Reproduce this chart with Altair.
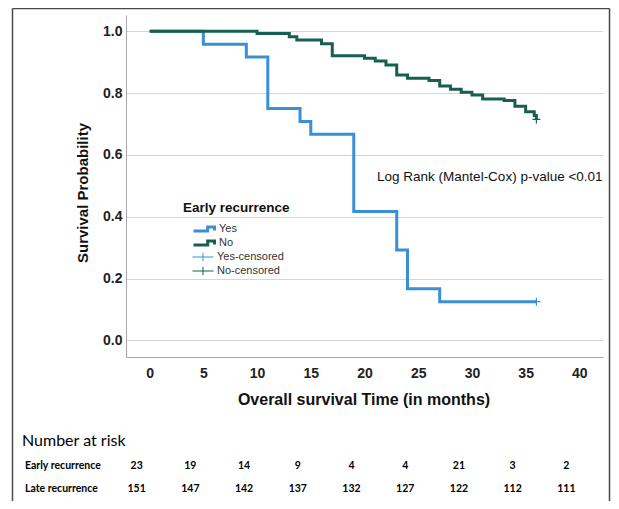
import altair as alt
import pandas as pd

# ---- data ----
yes_time = [0, 5, 9, 11, 14, 15, 19, 23, 24, 27, 36]
yes_surv = [1.0, 0.958, 0.917, 0.75, 0.708, 0.667, 0.417, 0.292, 0.167, 0.125, 0.125]
no_time = [0, 10, 13, 13.7, 16, 17, 20, 21, 22, 23, 24, 26, 27, 28, 29, 30, 31, 33, 34, 35, 35.8, 36]
no_surv = [1.0, 0.993, 0.983, 0.972, 0.96, 0.921, 0.913, 0.904, 0.891, 0.859, 0.848, 0.841,
           0.823, 0.813, 0.803, 0.794, 0.781, 0.776, 0.758, 0.74, 0.728, 0.715]
censor_group = ["Yes-censored", "No-censored"]
censor_time = [36, 36]
censor_surv = [0.125, 0.715]
risk_time = [0, 5, 10, 15, 20, 25, 30, 35, 40]
risk_early = [23, 19, 14, 9, 4, 4, 21, 3, 2]
risk_late = [151, 147, 142, 137, 132, 127, 122, 112, 111]
x_ticks = [0, 5, 10, 15, 20, 25, 30, 35, 40]
y_ticks = [0.0, 0.2, 0.4, 0.6, 0.8, 1.0]

BLUE = "#3a8fd8"
GREEN = "#17604f"
FONT = "Liberation Sans"
TFONT = "Lato"

STEP_PATH = "M-1,0.2H0.35V-0.2H1V0.15"
CROSS_LEGEND = "M-1,0H1M0,-0.4V0.4"
CROSS_MARK = "M-1,0H1M0,-1V1"

x_scale = alt.Scale(domain=[-2.2, 42.2], nice=False, zero=False)
y_scale = alt.Scale(domain=[-0.054, 1.053], nice=False, zero=False)

x_axis = alt.Axis(values=x_ticks, grid=False, ticks=False, tickSize=0, labelPadding=9,
                  labelFont=FONT, labelFontSize=14, labelFontWeight="bold", labelColor="#222",
                  domainColor="#a8a8a8", title=None, labelFlush=False)
y_axis = alt.Axis(values=y_ticks, format=".1f", grid=True, gridColor="#d6d6d6", ticks=False,
                  tickSize=0, labelPadding=4, labelFont=FONT, labelFontSize=14,
                  labelFontWeight="bold", labelColor="#222", domainColor="#a8a8a8", title=None)

curves = pd.DataFrame({
    "time": yes_time + no_time,
    "surv": yes_surv + no_surv,
    "group": ["Yes"] * len(yes_time) + ["No"] * len(no_time),
})
cens = pd.DataFrame({"time": censor_time, "surv": censor_surv, "group": censor_group})
risk_e = pd.DataFrame({"time": risk_time, "n": risk_early})
risk_l = pd.DataFrame({"time": risk_time, "n": risk_late})
one = pd.DataFrame({"a": [0]})

X = alt.X("time:Q", scale=x_scale, axis=x_axis)
Y = alt.Y("surv:Q", scale=y_scale, axis=y_axis)

lines = alt.Chart(curves).mark_line(interpolate="step-after", strokeWidth=3).encode(
    x=X, y=Y,
    color=alt.Color("group:N", scale=alt.Scale(domain=["Yes", "No"], range=[BLUE, GREEN]),
                    legend=alt.Legend(title=None, orient="none", legendX=66, legendY=208,
                                      symbolType=STEP_PATH, symbolSize=441, symbolStrokeWidth=3,
                                      symbolFillColor="transparent", symbolOpacity=1,
                                      clipHeight=12, rowPadding=2, labelOffset=3, padding=0,
                                      labelFont=FONT, labelFontSize=11, labelColor="#333")),
)

points = alt.Chart(cens).mark_point(shape=CROSS_MARK, filled=False, size=64, strokeWidth=1.2,
                                     opacity=1).encode(
    x=X, y=Y,
    stroke=alt.Stroke("group:N", scale=alt.Scale(domain=censor_group, range=[BLUE, GREEN]),
                      legend=alt.Legend(title=None, orient="none", legendX=66, legendY=236,
                                        symbolType=CROSS_LEGEND, symbolSize=441, symbolStrokeWidth=1,
                                        symbolFillColor="transparent", symbolOpacity=1,
                                        clipHeight=12, rowPadding=2, labelOffset=3, padding=0,
                                        labelFont=FONT, labelFontSize=11, labelColor="#333")),
)

def label(text, x, y, size, weight="normal", font=FONT, angle=0, align="center", color="#111"):
    kw = dict(text=text, fontSize=size, fontWeight=weight, font=font, align=align,
              baseline="middle", color=color)
    if angle:
        kw["angle"] = angle
    return alt.Chart(one).mark_text(**kw).encode(x=alt.value(x), y=alt.value(y))

y_title = label("Survival Probability", -43, 178, 15, "bold", angle=270)
x_title = label("Overall survival Time (in months)", 238, 385, 16, "bold")
leg_title = label("Early recurrence", 57, 193, 13.5, "bold", align="left")
risk_head = label("Number at risk", -104, 426, 16, "normal", font=TFONT, align="left", color="#000")
row_e = label("Early recurrence", -101, 451, 10.5, "bold", font=TFONT, align="left", color="#000")
row_l = label("Late recurrence", -101, 474, 10.5, "bold", font=TFONT, align="left", color="#000")

logrank = alt.Chart(pd.DataFrame({"time": [21.17], "surv": [0.529],
                                  "t": ["Log Rank (Mantel-Cox) p-value <0.01"]})).mark_text(
    align="left", baseline="middle", font=FONT, fontSize=13.5, color="#111").encode(
    x=X, y=Y, text="t:N")

nums_e = alt.Chart(risk_e).mark_text(font=TFONT, fontSize=10.5, fontWeight="bold", dx=-13,
                                     baseline="middle", color="#000").encode(
    x=X, y=alt.value(451), text="n:Q")
nums_l = alt.Chart(risk_l).mark_text(font=TFONT, fontSize=10.5, fontWeight="bold", dx=-13,
                                     baseline="middle", color="#000").encode(
    x=X, y=alt.value(474), text="n:Q")

FR = "#4a4a4a"
frame_l = alt.Chart(one).mark_rule(color=FR, strokeWidth=1.5).encode(
    x=alt.value(-113.5), y=alt.value(-6.5), y2=alt.value(490))
frame_r = alt.Chart(one).mark_rule(color=FR, strokeWidth=1.5).encode(
    x=alt.value(483.5), y=alt.value(-6.5), y2=alt.value(490))
frame_t = alt.Chart(one).mark_rule(color=FR, strokeWidth=1.5).encode(
    x=alt.value(-113.5), x2=alt.value(483.5), y=alt.value(-6.5))

chart = alt.layer(
    lines, points, logrank, y_title, x_title, leg_title, risk_head, row_e, row_l,
    nums_e, nums_l, frame_l, frame_r, frame_t
).resolve_scale(color="independent", stroke="independent").properties(
    width=477, height=342,
    autosize=alt.AutoSizeParams(type="none"),
    padding={"left": 118, "top": 7, "right": 8, "bottom": 144},
    background="white",
).configure_view(strokeWidth=0)

chart.save("out.html", embed_options={"renderer": "svg", "actions": False})
